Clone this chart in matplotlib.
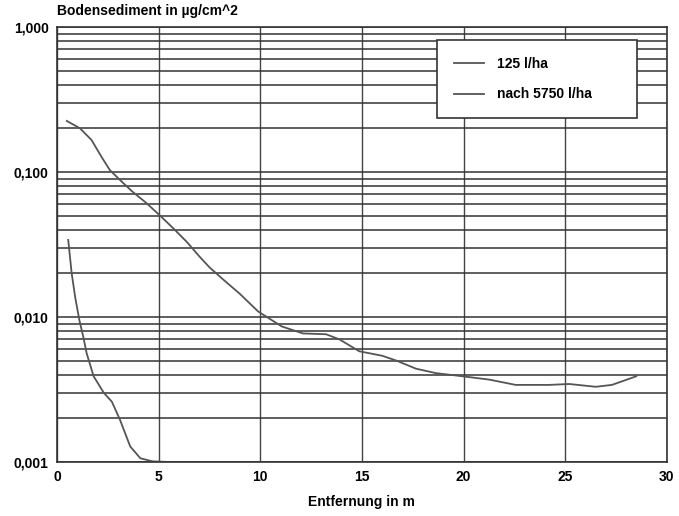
import numpy as np
import matplotlib.pyplot as plt
from matplotlib.ticker import FixedLocator, NullFormatter

# Werte
x_125 = [0.48, 1.13, 1.7, 2.19, 2.6, 3.1, 3.67, 4.4, 5.07, 5.71, 6.38, 7.02,
         7.5, 8.2, 8.98, 9.9, 11.06, 12.1, 13.24, 13.9, 14.87, 16.0, 16.7,
         17.66, 18.64, 19.95, 21.26, 22.57, 24.2, 25.2, 26.5, 27.3, 28.5]
y_125 = [0.225, 0.2, 0.166, 0.127, 0.103, 0.088, 0.074, 0.061, 0.050, 0.041,
         0.033, 0.026, 0.022, 0.018, 0.0145, 0.0109, 0.0086, 0.0077, 0.0076,
         0.0070, 0.0058, 0.0054, 0.0050, 0.0044, 0.0041, 0.0039, 0.0037,
         0.0034, 0.0034, 0.00345, 0.0033, 0.0034, 0.0039]

x_5750 = [0.55, 0.72, 0.9, 1.1, 1.3, 1.46, 1.8, 2.3, 2.7, 3.1, 3.6, 4.1, 4.7,
          5.5, 10, 15, 20, 25, 30]
y_5750 = [0.034, 0.020, 0.0135, 0.0095, 0.0072, 0.0056, 0.0039, 0.0030,
          0.0026, 0.00195, 0.00128, 0.00106, 0.00101, 0.001, 0.001, 0.001,
          0.001, 0.001, 0.001]

xticks = [0, 5, 10, 15, 20, 25, 30]
yticks = [0.001, 0.01, 0.1, 1.0]
ytick_labels = ["0,001", "0,010", "0,100", "1,000"]

plt.rcParams["font.family"] = "Liberation Sans"
plt.rcParams["font.weight"] = "bold"

fig = plt.figure(figsize=(6.79, 5.16), dpi=100)
ax = fig.add_axes([0.084, 0.1047, 0.898, 0.843])

ax.plot(x_125, y_125, color="#555555", lw=1.3, label="125 l/ha")
ax.plot(x_5750, y_5750, color="#555555", lw=1.3, label="nach 5750 l/ha")

ax.set_yscale("log")
ax.set_xlim(0, 30)
ax.set_ylim(0.001, 1.0)

ax.set_xticks(xticks)
ax.set_xticklabels([str(t) for t in xticks], fontsize=10, fontweight="bold")
ax.set_yticks(yticks)
ax.set_yticklabels(ytick_labels, fontsize=10, fontweight="bold")
minors = [m * 10.0 ** e for e in (-3, -2, -1) for m in range(2, 10)]
ax.yaxis.set_minor_locator(FixedLocator(minors))
ax.yaxis.set_minor_formatter(NullFormatter())
ax.tick_params(axis="both", which="both", length=0, pad=6)

ax.grid(True, which="both", axis="y", color="#333333", lw=1.1)
ax.grid(True, which="major", axis="x", color="#444444", lw=1.0)
for s in ax.spines.values():
    s.set_color("#333333")
    s.set_linewidth(1.2)

ax.set_xlabel("Entfernung in m", fontsize=10, fontweight="bold", labelpad=8)
fig.text(0.084, 0.965, "Bodensediment in µg/cm^2", fontsize=10,
         fontweight="bold", ha="left", va="bottom")

leg = ax.legend(loc="upper left", bbox_to_anchor=(0.623, 0.809, 0.328, 0.161),
                mode="expand", fontsize=10, frameon=True, fancybox=False,
                borderpad=1.2, labelspacing=1.2, handlelength=2.2,
                handletextpad=0.95, borderaxespad=0)
leg.get_frame().set_edgecolor("#333333")
leg.get_frame().set_linewidth(1.2)
leg.get_frame().set_alpha(1)

fig.savefig("out.png", dpi=100)
plt.close(fig)
